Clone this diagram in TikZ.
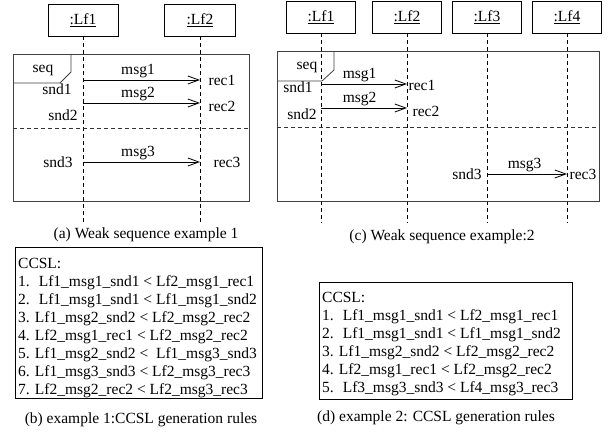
\documentclass[tikz,border=0pt]{standalone}
\usepackage{fontspec}
\setmainfont{Liberation Serif}
\usetikzlibrary{arrows.meta}

\begin{document}
\begin{tikzpicture}[x=1pt, y=-1pt,
  font=\fontsize{15.5}{18}\selectfont,
  life/.style={draw, line width=0.8pt, minimum width=69pt, minimum height=32pt, inner sep=0pt},
  lifeline/.style={line width=0.8pt, dash pattern=on 4pt off 3pt},
  frame/.style={line width=0.8pt, draw=black!75},
  sep/.style={line width=0.8pt, draw=black!80, dash pattern=on 4pt off 3pt},
  msg/.style={line width=0.8pt, -{Straight Barb[length=11pt, width=8pt]}},
  lbl/.style={inner sep=0pt},
  ccsl/.style={draw, line width=0.8pt, inner sep=0pt}]
\useasboundingbox (0,0) rectangle (613,433);

% (a) weak sequence example 1
\node[life, minimum width=70pt] (a1) at (83,20) {\underline{:Lf1}};
\node[life, minimum width=71pt] (a2) at (200,20) {\underline{:Lf2}};
\coordinate (a1end) at (83,222);
\coordinate (a2end) at (200,222);
\draw[lifeline] (a1) -- (a1end);
\draw[lifeline] (a2) -- (a2end);

\draw[frame] (13,54) rectangle (249,201);
\draw[frame] (13,83) -- (60,83) -- (71,72) -- (71,54);
\node[lbl] (aseq) at (43,70) {seq};
\draw[sep] (13,128) -- (249,128);

\coordinate (a1m1) at (83,80);
\coordinate (a2m1) at (200,80);
\coordinate (a1m2) at (83,103);
\coordinate (a2m2) at (200,103);
\coordinate (a1m3) at (83,162);
\coordinate (a2m3) at (200,162);
\draw[msg] (a1m1) -- node[above, inner sep=2pt, pos=0.47] {msg1} (a2m1);
\draw[msg] (a1m2) -- node[above, inner sep=2pt, pos=0.47] {msg2} (a2m2);
\draw[msg] (a1m3) -- node[above, inner sep=2pt, pos=0.47] {msg3} (a2m3);
\node[lbl] (asnd1) at (57,89) {snd1};
\node[lbl] (arec1) at (222,80) {rec1};
\node[lbl] (asnd2) at (63,115) {snd2};
\node[lbl] (arec2) at (222,106) {rec2};
\node[lbl] (asnd3) at (58,162) {snd3};
\node[lbl] (arec3) at (227,162) {rec3};

\node[lbl] (capa) at (146,235) {(a) Weak sequence example 1};

% (b) rules of example 1
\node[ccsl, minimum width=247pt, minimum height=151pt] (rulesb) at (138.5,322.5) {};
\node[lbl, anchor=north west, align=left] (textb) at (18,258) {CCSL:\\
1.~ Lf1\_msg1\_snd1 < Lf2\_msg1\_rec1\\
2.~ Lf1\_msg1\_snd1 < Lf1\_msg1\_snd2\\
3. Lf1\_msg2\_snd2 < Lf2\_msg2\_rec2\\
4. Lf2\_msg1\_rec1 < Lf2\_msg2\_rec2\\
5. Lf1\_msg2\_snd2 <~ Lf1\_msg3\_snd3\\
6. Lf1\_msg3\_snd3 < Lf2\_msg3\_rec3\\
7. Lf2\_msg2\_rec2 < Lf2\_msg3\_rec3};
\node[lbl] (capb) at (141,420) {(b) example 1:CCSL generation rules};

% (c) weak sequence example 2
\node[life] (c1) at (321,17) {\underline{:Lf1}};
\node[life] (c2) at (407,17) {\underline{:Lf2}};
\node[life] (c3) at (487,17) {\underline{:Lf3}};
\node[life] (c4) at (567,17) {\underline{:Lf4}};
\coordinate (c1end) at (321,223);
\coordinate (c2end) at (407,223);
\coordinate (c3end) at (487,223);
\coordinate (c4end) at (567,223);
\draw[lifeline] (c1) -- (c1end);
\draw[lifeline] (c2) -- (c2end);
\draw[lifeline] (c3) -- (c3end);
\draw[lifeline] (c4) -- (c4end);

\draw[frame] (277,51) rectangle (599,201);
\draw[frame] (277,81) -- (322,81) -- (334,70) -- (334,51);
\node[lbl] (cseq) at (307,67) {seq};
\draw[sep] (277,127) -- (599,127);

\coordinate (c1m1) at (321,84);
\coordinate (c2m1) at (407,84);
\coordinate (c1m2) at (321,108);
\coordinate (c2m2) at (407,108);
\coordinate (c3m3) at (487,174);
\coordinate (c4m3) at (567,174);
\draw[msg] (c1m1) -- node[above, inner sep=2pt, pos=0.45] {msg1} (c2m1);
\draw[msg] (c1m2) -- node[above, inner sep=2pt, pos=0.45] {msg2} (c2m2);
\draw[msg] (c3m3) -- node[above, inner sep=2pt, pos=0.47] {msg3} (c4m3);
\node[lbl] (csnd1) at (298,87) {snd1};
\node[lbl] (crec1) at (422,85) {rec1};
\node[lbl] (csnd2) at (302,114) {snd2};
\node[lbl] (crec2) at (426,111) {rec2};
\node[lbl] (csnd3) at (467,174) {snd3};
\node[lbl] (crec3) at (583,174) {rec3};

\node[lbl] (capc) at (442,237) {(c) Weak sequence example:2};

% (d) rules of example 2
\node[ccsl, minimum width=253pt, minimum height=117pt] (rulesd) at (445.5,340.5) {};
\node[lbl, anchor=north west, align=left] (textd) at (322,292) {CCSL:\\
1.~ Lf1\_msg1\_snd1 < Lf2\_msg1\_rec1\\
2.~ Lf1\_msg1\_snd1 < Lf1\_msg1\_snd2\\
3. Lf1\_msg2\_snd2 < Lf2\_msg2\_rec2\\
4. Lf2\_msg1\_rec1 < Lf2\_msg2\_rec2\\
5.~ Lf3\_msg3\_snd3 < Lf4\_msg3\_rec3};
\node[lbl] (capd) at (436,418) {(d) example 2: CCSL generation rules};
\end{tikzpicture}
\end{document}
